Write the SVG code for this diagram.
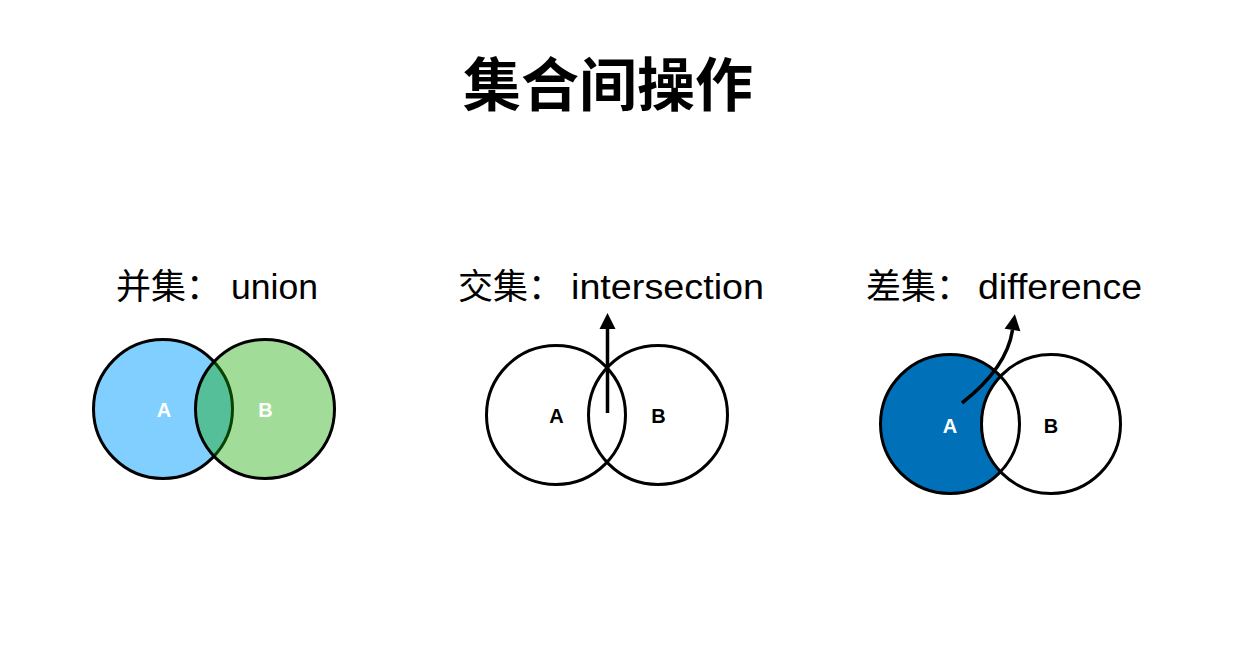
<svg xmlns="http://www.w3.org/2000/svg" width="1250" height="661" viewBox="0 0 1250 661">
  <style>
    .title { font-family: "Noto Sans CJK SC", "Liberation Sans", sans-serif; font-size: 58px; font-weight: bold; fill: #000; }
    .cjk { font-family: "Noto Sans CJK SC", sans-serif; font-size: 35px; fill: #000; }
    .lat { font-family: "Liberation Sans", "Noto Sans CJK SC", sans-serif; font-size: 35px; fill: #000; }
    .ring { stroke: #000; stroke-width: 3; }
    .lbl { font-family: "Liberation Sans", sans-serif; font-size: 20px; font-weight: bold; text-anchor: middle; }
    .conn { fill: none; stroke: #000; stroke-width: 3.5; }
  </style>
  <defs>
    <marker id="head" markerUnits="userSpaceOnUse" markerWidth="16" markerHeight="16" viewBox="0 -8 16 16" refX="0" refY="0" orient="auto" overflow="visible">
      <path d="M0,-8 L16,0 L0,8 Z" fill="#000"/>
    </marker>
  </defs>
  <rect width="1250" height="661" fill="#fff"/>

  <text class="title" x="608" y="106" text-anchor="middle">集合间操作</text>

  <text class="cjk" x="116" y="299">并集：</text>
  <text class="lat" x="231" y="299" textLength="87" lengthAdjust="spacingAndGlyphs">union</text>
  <text class="cjk" x="458" y="299">交集：</text>
  <text class="lat" x="571" y="299" textLength="193" lengthAdjust="spacingAndGlyphs">intersection</text>
  <text class="cjk" x="866" y="299">差集：</text>
  <text class="lat" x="978" y="299" textLength="164" lengthAdjust="spacingAndGlyphs">difference</text>

  <!-- Union -->
  <g id="union-A">
    <circle cx="163" cy="409" r="69.5" fill="#80cfff" class="ring"/>
    <text class="lbl" x="164" y="417" fill="#fff">A</text>
  </g>
  <g id="union-B">
    <circle cx="265" cy="409" r="69.5" fill="#14a800" fill-opacity="0.4" class="ring"/>
    <text class="lbl" x="265.5" y="417" fill="#fff">B</text>
  </g>

  <!-- Intersection -->
  <g id="inter-A">
    <circle cx="556" cy="415" r="69.5" fill="none" class="ring"/>
    <text class="lbl" x="556.5" y="423" fill="#000">A</text>
  </g>
  <g id="inter-B">
    <circle cx="658" cy="415" r="69.5" fill="none" class="ring"/>
    <text class="lbl" x="658.5" y="423" fill="#000">B</text>
  </g>

  <!-- Difference -->
  <g id="diff-A">
    <circle cx="950" cy="424" r="69.5" fill="#0071b8"/>
  </g>
  <g id="diff-B">
    <circle cx="1051" cy="424" r="69.5" fill="#fff"/>
    <circle cx="950" cy="424" r="69.5" fill="none" class="ring"/>
    <circle cx="1051" cy="424" r="69.5" fill="none" class="ring"/>
    <text class="lbl" x="950" y="433" fill="#fff">A</text>
    <text class="lbl" x="1051" y="433" fill="#000">B</text>
  </g>

  <g id="connectors">
    <path class="conn" d="M607.5,413 L607.5,329" marker-end="url(#head)"/>
    <path class="conn" d="M962,403 C985,385 1008,360 1012.5,330" marker-end="url(#head)"/>
  </g>
</svg>
